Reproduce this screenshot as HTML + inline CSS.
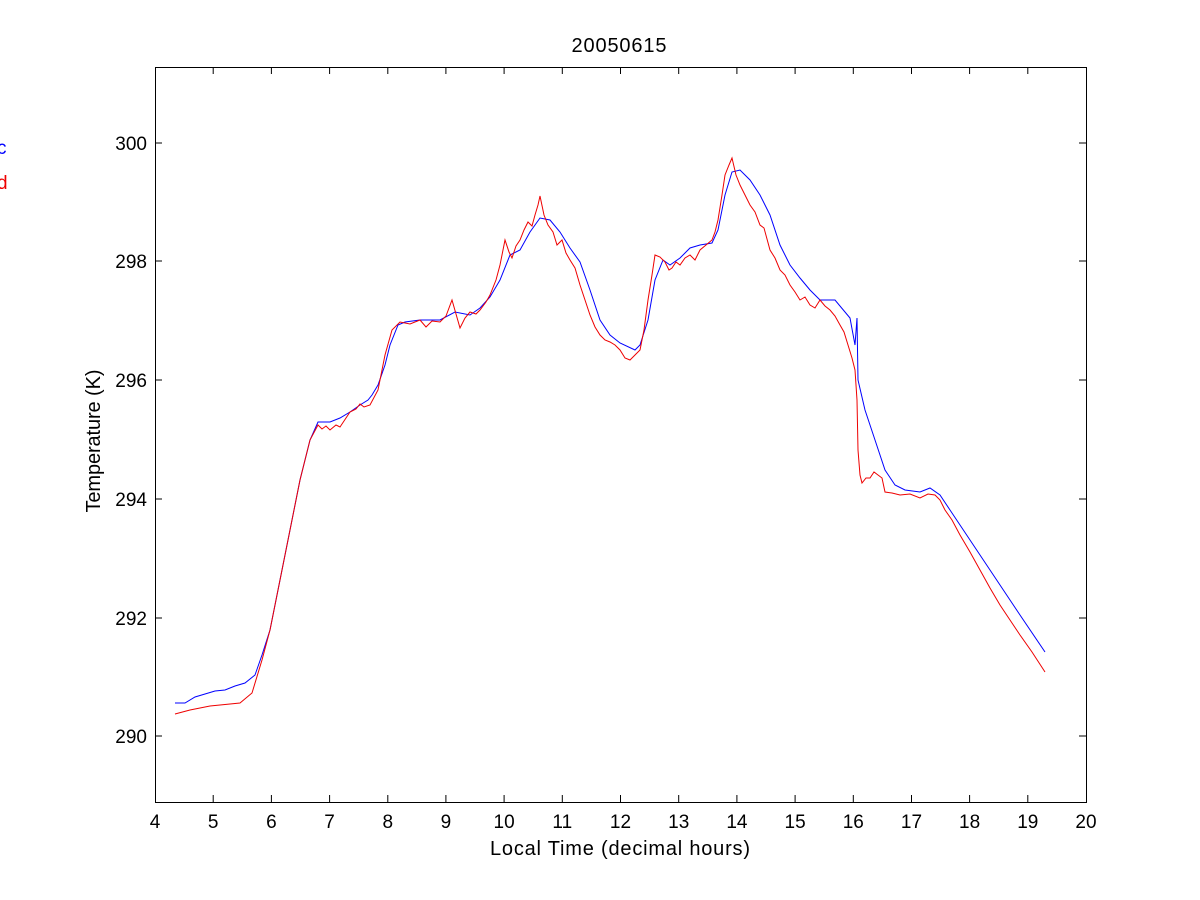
<!DOCTYPE html>
<html><head><style>body{margin:0;background:#fff}svg{display:block}text{font-family:"Liberation Sans",sans-serif}</style></head>
<body>
<svg width="1200" height="900" xmlns="http://www.w3.org/2000/svg">
<rect x="155.5" y="67.5" width="931" height="735" fill="#fff" stroke="#000"/>
<g stroke="#000">
<line x1="155" y1="736" x2="162" y2="736"/><line x1="1086" y1="736" x2="1079" y2="736"/>
<line x1="155" y1="618" x2="162" y2="618"/><line x1="1086" y1="618" x2="1079" y2="618"/>
<line x1="155" y1="499" x2="162" y2="499"/><line x1="1086" y1="499" x2="1079" y2="499"/>
<line x1="155" y1="380" x2="162" y2="380"/><line x1="1086" y1="380" x2="1079" y2="380"/>
<line x1="155" y1="261" x2="162" y2="261"/><line x1="1086" y1="261" x2="1079" y2="261"/>
<line x1="155" y1="143" x2="162" y2="143"/><line x1="1086" y1="143" x2="1079" y2="143"/>
<path d="M213.2,802v-7M271.4,802v-7M329.6,802v-7M387.8,802v-7M445.9,802v-7M504.1,802v-7M562.3,802v-7M620.5,802v-7M678.7,802v-7M736.9,802v-7M795.1,802v-7M853.3,802v-7M911.5,802v-7M969.6,802v-7M1027.8,802v-7M213.2,67v7M271.4,67v7M329.6,67v7M387.8,67v7M445.9,67v7M504.1,67v7M562.3,67v7M620.5,67v7M678.7,67v7M736.9,67v7M795.1,67v7M853.3,67v7M911.5,67v7M969.6,67v7M1027.8,67v7"/>
</g>
<g font-size="19" text-anchor="end">
<text x="147" y="743">290</text><text x="147" y="625">292</text><text x="147" y="506">294</text>
<text x="147" y="387">296</text><text x="147" y="268">298</text><text x="147" y="150">300</text>
</g>
<g font-size="19" text-anchor="middle">
<text x="155" y="828">4</text><text x="213.2" y="828">5</text><text x="271.4" y="828">6</text><text x="329.6" y="828">7</text><text x="387.8" y="828">8</text><text x="445.9" y="828">9</text><text x="504.1" y="828">10</text><text x="562.3" y="828">11</text><text x="620.5" y="828">12</text><text x="678.7" y="828">13</text><text x="736.9" y="828">14</text><text x="795.1" y="828">15</text><text x="853.3" y="828">16</text><text x="911.5" y="828">17</text><text x="969.6" y="828">18</text><text x="1027.8" y="828">19</text><text x="1086" y="828">20</text>
</g>
<text x="619" y="52" font-size="20" text-anchor="middle" textLength="95">20050615</text>
<text x="620" y="855" font-size="20" text-anchor="middle" textLength="260">Local Time (decimal hours)</text>
<text transform="translate(100,441) rotate(-90)" font-size="20" text-anchor="middle" textLength="143">Temperature (K)</text>
<text x="-3" y="154" font-size="19" fill="#00f">c</text>
<text x="-3" y="189" font-size="19" fill="#e00">d</text>
<polyline fill="none" stroke="#00f" stroke-width="1" points="175,703 185,703 195,697 205,694 215,691 225,690 235,686 245,683 255,675 262,655 270,630 280,580 290,530 300,480 310,440 318,422 330,422 340,418 350,412 360,405 368,400 372,395 378,385 385,365 390,345 398,325 405,322 420,320 440,320 455,312 470,315 480,308 490,297 500,280 510,255 520,250 530,232 540,218 550,220 560,232 570,248 580,262 590,290 600,320 610,335 620,343 635,350 640,345 648,320 655,280 663,260 670,265 680,258 690,248 700,245 712,243 718,230 725,195 732,172 740,170 750,180 760,195 770,215 780,245 790,265 800,278 810,290 820,300 835,300 850,318 855,345 857,318 858,380 865,410 875,440 885,470 895,485 905,490 920,492 930,488 940,495 950,510 960,525 980,555 1000,585 1020,615 1045,652"/>
<polyline fill="none" stroke="#e00" stroke-width="1" points="175,714 190,710 210,706 240,703 252,693 262,660 270,630 280,580 290,530 300,480 310,440 318,425 322,429 326,426 330,430 336,425 340,427 346,418 350,412 356,409 360,404 364,407 370,405 378,390 385,355 392,330 400,322 410,324 420,320 426,327 432,321 440,322 446,316 452,300 456,314 460,328 465,318 470,312 476,314 480,310 486,302 490,295 496,280 500,265 505,240 509,252 512,258 516,246 520,240 524,230 528,222 532,226 535,215 538,205 540,196 544,215 548,225 553,232 557,245 562,240 566,253 570,260 575,268 580,285 585,300 590,315 595,327 600,335 605,340 610,342 615,345 620,350 625,358 630,360 635,355 640,350 644,330 648,300 652,275 655,255 660,257 665,262 669,270 672,268 676,262 680,265 685,258 690,255 695,260 700,250 706,245 712,240 715,232 718,220 722,195 725,175 729,165 732,158 736,175 740,185 745,195 750,205 755,212 760,225 764,228 770,250 775,258 780,270 785,275 790,285 795,292 800,300 805,297 810,305 815,308 820,300 825,306 830,310 835,316 840,325 844,332 848,345 852,358 855,370 857,400 858,450 860,475 862,483 866,478 870,478 874,472 878,475 882,478 885,492 892,493 900,495 910,494 920,498 928,494 935,495 940,500 945,510 952,520 960,535 970,552 980,570 990,588 1000,605 1010,620 1020,635 1032,652 1045,672"/>
</svg>
</body></html>
